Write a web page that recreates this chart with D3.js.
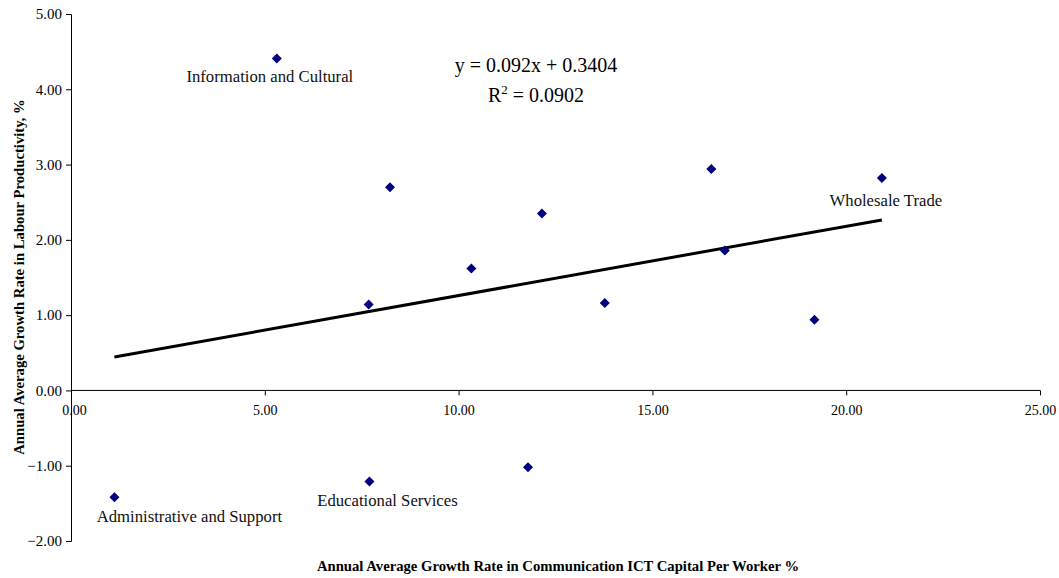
<!DOCTYPE html>
<html>
<head>
<meta charset="utf-8">
<script src="https://cdn.jsdelivr.net/npm/d3@7"></script>
<style>
  html, body { margin: 0; padding: 0; background: #fff; }
  svg { display: block; font-family: "Liberation Serif", "Times New Roman", serif; }
</style>
</head>
<body>
<svg id="chart" width="1059" height="578"></svg>
<script>
// Industry observations: ICT capital growth (x) vs labour productivity growth (y)
const ictGrowth = [5.31, 8.23, 7.68, 10.33, 12.15, 13.77, 16.52, 20.92, 16.87, 19.18, 1.12, 7.70, 11.79];
const productivityGrowth = [4.41, 2.70, 1.14, 1.62, 2.35, 1.16, 2.94, 2.82, 1.86, 0.94, -1.42, -1.21, -1.02];
const pointNames = ["Information and Cultural", "", "", "", "", "", "", "Wholesale Trade", "", "", "Administrative and Support", "Educational Services", ""];

const xTicks = [0, 5, 10, 15, 20, 25];
const yTicks = [-2, -1, 0, 1, 2, 3, 4, 5];

// Linear trend reported on the chart
const slope = 0.092;
const intercept = 0.3404;
const rSquared = 0.0902;

const svg = d3.select("#chart");
const x = d3.scaleLinear().domain([0, 25]).range([71, 1040]);
const y = d3.scaleLinear().domain([-2, 5]).range([541, 14]);

// Y axis
const yAxis = svg.append("g")
  .attr("transform", `translate(${x(0)},0)`)
  .call(d3.axisLeft(y).tickValues(yTicks).tickSize(5).tickPadding(4).tickFormat(d3.format(".2f")));
// X axis crossing at y = 0
const xAxis = svg.append("g")
  .attr("transform", `translate(0,${y(0)})`)
  .call(d3.axisBottom(x).tickValues(xTicks).tickSize(5).tickPadding(10).tickFormat(d3.format(".2f")));

[yAxis, xAxis].forEach(g => {
  g.select(".domain").attr("stroke", "#000").attr("stroke-width", 1);
  g.selectAll(".tick line").attr("stroke", "#000");
  g.selectAll(".tick text").attr("fill", "#000")
    .style("font-family", '"Liberation Serif", serif');
});
yAxis.selectAll(".tick text").style("font-size", "15px");
xAxis.selectAll(".tick text").style("font-size", "14px");
xAxis.select(".tick text").attr("dx", 3);
xAxis.select(".domain").attr("d", `M${x(0)},0H${x(25)}`);

// Trend line across the observed x range
const [xMin, xMax] = d3.extent(ictGrowth);
svg.append("line")
  .attr("x1", x(xMin)).attr("y1", y(slope * xMin + intercept))
  .attr("x2", x(xMax)).attr("y2", y(slope * xMax + intercept))
  .attr("stroke", "#000").attr("stroke-width", 3);

// Diamond markers (squares turned 45°)
const marker = d3.symbol().type(d3.symbolSquare).size(50);
svg.append("g").selectAll("path")
  .data(ictGrowth.map((v, i) => [v, productivityGrowth[i]]))
  .join("path")
  .attr("d", marker)
  .attr("transform", d => `translate(${x(d[0])},${y(d[1])}) rotate(45)`)
  .attr("fill", "#000080");

// Point labels beneath selected industries
const labelOffsets = {
  "Information and Cultural": [-7, 24],
  "Wholesale Trade": [4, 28],
  "Administrative and Support": [75, 25],
  "Educational Services": [18, 24]
};
svg.append("g").selectAll("text")
  .data(pointNames.map((n, i) => ({ n, i })).filter(d => d.n))
  .join("text")
  .attr("x", d => x(ictGrowth[d.i]) + labelOffsets[d.n][0])
  .attr("y", d => y(productivityGrowth[d.i]) + labelOffsets[d.n][1])
  .attr("text-anchor", "middle")
  .style("font-size", "16.7px")
  .attr("fill", "#111")
  .text(d => d.n);

// Equation and R²
svg.append("text").attr("x", 536).attr("y", 72).attr("text-anchor", "middle")
  .style("font-size", "20px").text(`y = ${slope}x + ${intercept}`);
const r2 = svg.append("text").attr("x", 536).attr("y", 102).attr("text-anchor", "middle").style("font-size", "20px");
r2.append("tspan").text("R");
r2.append("tspan").attr("dy", -8).style("font-size", "13px").text("2");
r2.append("tspan").attr("dy", 8).text(` = ${rSquared}`);

// Axis titles
svg.append("text").attr("x", 558).attr("y", 571).attr("text-anchor", "middle")
  .style("font-size", "14.7px").style("font-weight", "bold")
  .text("Annual Average Growth Rate in Communication ICT Capital Per Worker %");
svg.append("text").attr("transform", "translate(24,277) rotate(-90)").attr("text-anchor", "middle")
  .style("font-size", "14.7px").style("font-weight", "bold")
  .text("Annual Average Growth Rate in Labour Productivity, %");
</script>
</body>
</html>
